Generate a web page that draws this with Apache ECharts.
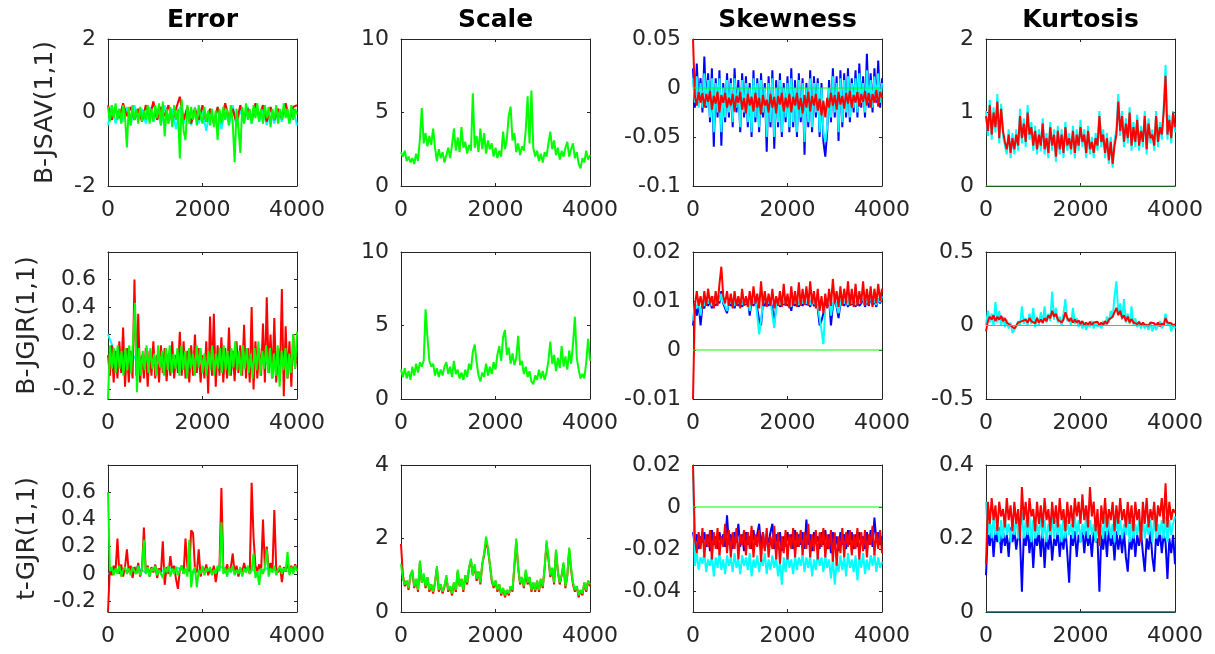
<!DOCTYPE html>
<html>
<head>
<meta charset="utf-8">
<script src="https://cdn.jsdelivr.net/npm/echarts@6.0.0/dist/echarts.min.js"></script>
<style>
  html, body { margin: 0; background: #fff; }
  #chart { width: 1215px; height: 654px; }
</style>
</head>
<body>
<div id="chart"></div>
<script>
// ---- labels & ticks ----
const colTitles = ['Error', 'Scale', 'Skewness', 'Kurtosis'];
const rowNames = ['B-JSAV(1,1)', 'B-JGJR(1,1)', 't-GJR(1,1)'];
const xTicks = [0, 2000, 4000];
// row-major: r1c1..r1c4, r2c1..., r3c1...
const yRanges = [[-2, 2], [0, 10], [-0.1, 0.05], [0, 2],
                 [-0.27, 0.8], [0, 10], [-0.01, 0.02], [-0.5, 0.5],
                 [-0.28, 0.8], [0, 4], [-0.05, 0.02], [0, 0.4]];
const yTicks = [[-2, 0, 2], [0, 5, 10], [-0.1, -0.05, 0, 0.05], [0, 1, 2],
                [-0.2, 0, 0.2, 0.4, 0.6], [0, 5, 10], [-0.01, 0, 0.01, 0.02], [-0.5, 0, 0.5],
                [-0.2, 0, 0.2, 0.4, 0.6], [0, 2, 4], [-0.04, -0.02, 0, 0.02], [0, 0.2, 0.4]];

// ---- row 1: B-JSAV(1,1) ----
const errCyan1 = [-0.35,0.2,-0.3,0.1,-0.25,0.15,-0.35,0.2,-0.2,0.1,-0.3,0.15,-0.25,0.1,-0.35,0.2,-0.3,0.1,-0.45,0.15,-0.3,0.1,-0.35,0.15,-0.3,0.05,-0.5,0.1,-0.3,0.15,-0.45,0.1,-0.35,0.2,-0.4,0.1,-0.3,0.15,-0.3,0.2,-0.25,0.1,-0.35,0.15,-0.3,0.1,-0.25,0.2,-0.3,0.1,-0.35];
const errRed1 = [0.2,-0.2,0.1,-0.15,0.25,-0.1,0.15,-0.2,0.1,-0.25,0.2,-0.15,0.3,-0.2,0.15,-0.1,0.2,-0.25,0.1,0.43,-0.2,0.15,-0.3,0.1,-0.2,0.2,-0.25,0.1,-0.3,0.15,-0.2,0.25,-0.15,0.1,-0.3,0.2,-0.15,0.1,-0.2,0.25,-0.1,0.2,-0.25,0.15,-0.2,0.1,-0.15,0.25,-0.2,0.15,0.2];
const errGreen1 = [0.15,-0.25,0.2,-0.15,0.25,-0.2,0.1,-0.3,0.2,-0.1,-0.95,0.15,-0.35,0.2,-0.2,0.1,-0.3,0.15,-0.25,0.05,
  -0.2,0.2,-0.3,0.1,-0.25,0.2,-0.15,0.25,-0.35,0.3,-0.65,0.1,-0.3,0.15,-0.4,0.2,-0.2,0.1,-1.25,0.35,
  -0.5,-0.75,0.2,-0.3,0.15,-0.2,0.1,-0.35,0.2,-0.1,-0.3,0.15,-0.25,0.05,-0.35,0.1,-0.4,0.05,-0.75,0.1,
  -0.3,0.15,-0.2,0.1,-0.35,0.2,-0.3,-1.35,0.1,-0.4,-1.1,0.15,-0.3,0.25,-0.2,0.1,-0.3,0.2,-0.15,0.25,
  -0.25,0.1,-0.3,0.2,-0.15,0.15,-0.4,0.1,-0.2,0.2,-0.3,0.1,-0.2,0.25,-0.15,0.1,-0.3,0.2,-0.2,0.1,-0.05];
const scaleGreen1 = [2.3,2.0,2.4,1.7,2.0,1.6,1.9,1.5,2.2,1.7,3.2,5.3,2.9,3.6,2.7,3.4,2.8,3.9,2.6,1.7,
  2.5,1.9,2.3,1.6,2.1,2.6,1.9,2.8,3.9,2.4,3.3,2.3,4.0,2.6,3.0,2.2,2.8,2.4,6.3,2.6,
  3.4,2.3,3.9,2.5,3.6,2.2,3.1,2.5,2.9,2.0,2.6,1.9,2.4,2.0,3.7,2.5,3.2,4.8,5.4,3.1,
  3.6,2.3,2.9,2.1,2.7,2.4,3.8,6.1,2.9,6.5,2.6,2.0,2.4,1.7,2.2,1.6,2.3,2.0,2.9,3.7,
  2.5,3.1,2.1,2.6,1.8,2.4,2.0,2.6,3.0,2.0,2.5,2.9,1.9,2.3,1.5,1.2,1.9,1.6,2.4,1.8,2.1];
const skewBlue1 = [0.02,-0.02,0.025,-0.015,0.01,-0.025,0.032,-0.02,0.015,-0.035,0.02,-0.06,0.01,-0.03,0.018,-0.059,0.005,-0.035,0.015,-0.03,
  0.01,-0.04,0.02,-0.025,0.008,-0.045,0.015,-0.03,0.012,-0.04,0.005,-0.05,0.018,-0.035,0.01,-0.045,0.015,-0.03,0.005,-0.065,
  0.012,-0.04,0.018,-0.062,0.008,-0.04,0.015,-0.05,0.005,-0.035,0.012,-0.045,0.02,-0.04,0.008,-0.05,0.015,-0.035,0.01,-0.068,
  0.005,-0.04,0.018,-0.045,0.012,-0.03,0.01,-0.05,0.005,-0.055,-0.07,-0.045,0.008,-0.035,0.02,-0.03,0.012,-0.054,0.018,-0.04,
  0.015,-0.03,0.02,-0.035,0.01,-0.025,0.018,-0.03,0.025,-0.02,0.012,-0.03,0.035,-0.02,0.015,-0.025,0.02,-0.015,0.028,-0.02,0.01];
const skewCyan1 = [0.01,-0.015,0.012,-0.02,0.005,-0.02,0.015,-0.018,0.008,-0.03,0.01,-0.045,0.005,-0.025,0.01,-0.045,0.0,-0.03,0.008,-0.025,
  0.005,-0.035,0.01,-0.02,0.0,-0.04,0.008,-0.025,0.005,-0.035,0.0,-0.045,0.01,-0.03,0.005,-0.04,0.008,-0.025,0.0,-0.05,
  0.005,-0.035,0.01,-0.05,0.0,-0.035,0.008,-0.045,0.0,-0.03,0.005,-0.04,0.01,-0.035,0.0,-0.045,0.008,-0.03,0.005,-0.055,
  0.0,-0.035,0.01,-0.04,0.005,-0.025,0.005,-0.045,0.0,-0.045,-0.055,-0.04,0.0,-0.03,0.012,-0.025,0.005,-0.045,0.01,-0.035,
  0.008,-0.025,0.012,-0.03,0.005,-0.02,0.01,-0.025,0.015,-0.015,0.005,-0.025,0.018,-0.015,0.008,-0.02,0.012,-0.012,0.015,-0.015,0.005];
const skewRed1 = [0.05,-0.008,-0.018,-0.004,-0.015,-0.005,-0.02,-0.006,-0.014,-0.003,-0.022,-0.008,-0.016,-0.004,-0.025,-0.007,-0.015,-0.005,-0.02,-0.01,
  -0.018,-0.006,-0.024,-0.008,-0.015,-0.004,-0.022,-0.01,-0.026,-0.006,-0.018,-0.009,-0.024,-0.005,-0.02,-0.01,-0.027,-0.007,-0.018,-0.012,
  -0.025,-0.006,-0.02,-0.009,-0.026,-0.008,-0.017,-0.005,-0.024,-0.01,-0.02,-0.006,-0.025,-0.009,-0.018,-0.005,-0.022,-0.01,-0.026,-0.007,
  -0.02,-0.004,-0.024,-0.008,-0.018,-0.006,-0.023,-0.011,-0.028,-0.013,-0.03,-0.01,-0.02,-0.005,-0.018,-0.007,-0.022,-0.004,-0.017,-0.008,
  -0.021,-0.005,-0.016,-0.003,-0.02,-0.007,-0.015,-0.004,-0.019,-0.006,-0.014,-0.003,-0.018,-0.005,-0.02,-0.006,-0.015,-0.002,-0.019,-0.004,-0.01];
const skewGreen1 = [0, 0];
const kurtCyan1 = [1.02,0.68,1.17,0.63,1.07,0.73,1.25,0.58,1.12,0.68,0.67,0.43,0.77,0.38,0.72,0.43,0.77,0.48,1.05,0.58,
  0.92,0.53,1.1,0.63,0.87,0.48,0.82,0.43,0.77,0.48,0.92,0.43,0.72,0.38,0.87,0.48,0.77,0.33,0.82,0.43,
  0.77,0.38,0.87,0.48,0.72,0.43,0.82,0.38,0.77,0.48,0.9,0.53,0.77,0.38,0.82,0.43,0.67,0.38,0.72,0.48,
  1.02,0.53,0.77,0.38,0.72,0.3,0.67,0.25,0.62,0.77,1.25,0.68,1.02,0.53,0.92,0.58,1.07,0.48,0.87,0.53,
  0.97,0.48,0.82,0.53,1.02,0.43,0.92,0.58,0.77,0.48,1.02,0.53,0.87,0.63,1.07,1.65,0.63,0.97,0.58,1.02,0.73];
const kurtRed1 = [0.95,0.75,1.1,0.7,1.0,0.8,1.15,0.65,1.05,0.75,0.6,0.5,0.7,0.45,0.65,0.5,0.7,0.55,0.95,0.65,
  0.85,0.6,1.0,0.7,0.8,0.55,0.75,0.5,0.7,0.55,0.85,0.5,0.65,0.45,0.8,0.55,0.7,0.4,0.75,0.5,
  0.7,0.45,0.8,0.55,0.65,0.5,0.75,0.45,0.7,0.55,0.8,0.6,0.7,0.45,0.75,0.5,0.6,0.45,0.65,0.55,
  0.95,0.6,0.7,0.45,0.65,0.35,0.6,0.3,0.55,0.7,1.15,0.75,0.95,0.6,0.85,0.65,1.0,0.55,0.8,0.6,
  0.9,0.55,0.75,0.6,0.95,0.5,0.85,0.65,0.7,0.55,0.95,0.6,0.8,0.7,1.0,1.5,0.7,0.9,0.65,1.0,0.8];
const kurtGreen1 = [0, 0];

// ---- row 2: B-JGJR(1,1) ----
const errCyan2 = [0.2,0.02,-0.03,0.05,0.0,0.03,-0.02,0.04,0.01,-0.02,0.03,0.0,0.02,-0.03,0.04,0.01,0.03,-0.02,0.02,0.0,0.05];
const errRed2 = [0.05,-0.1,0.12,-0.15,0.08,-0.12,0.15,-0.08,0.25,-0.18,0.1,-0.15,0.08,-0.12,0.6,-0.1,0.35,-0.15,0.05,-0.12,
  0.1,-0.18,0.08,-0.1,0.15,-0.12,0.05,-0.15,0.12,-0.08,0.1,-0.14,0.06,-0.1,0.15,-0.12,0.05,-0.08,0.22,-0.1,
  0.15,-0.12,0.08,-0.15,0.12,-0.1,0.2,-0.08,0.1,-0.15,0.05,-0.12,0.15,-0.23,0.33,-0.1,0.35,-0.18,0.12,-0.1,
  0.18,-0.15,0.1,-0.12,0.25,-0.1,0.08,-0.14,0.15,-0.08,0.12,-0.1,0.27,-0.12,0.1,-0.15,0.4,-0.2,0.15,-0.12,
  0.1,-0.1,0.28,-0.15,0.47,-0.08,0.2,-0.12,0.32,-0.15,0.1,-0.1,0.53,-0.25,0.26,-0.12,0.15,-0.18,0.2,-0.05,0.1];
const errGreen2 = [-0.27,0.12,-0.05,0.1,-0.08,0.12,-0.05,0.08,-0.1,0.1,-0.06,0.12,-0.08,0.15,0.43,-0.22,0.1,-0.1,0.08,-0.06,
  0.12,-0.08,0.1,-0.05,0.06,-0.1,0.12,-0.04,0.08,-0.1,0.1,-0.06,0.12,-0.08,0.06,-0.05,0.1,-0.1,0.12,-0.06,
  0.08,-0.12,0.1,-0.05,0.06,-0.1,0.12,-0.04,0.1,-0.08,0.06,-0.1,0.08,-0.06,0.12,-0.1,0.06,-0.05,0.1,-0.08,
  0.12,-0.06,0.08,-0.1,0.1,-0.04,0.15,-0.06,0.08,-0.1,0.12,-0.05,0.1,-0.08,0.06,-0.12,0.1,-0.06,0.15,-0.1,
  0.08,-0.05,0.12,-0.08,0.1,-0.12,0.06,-0.1,0.12,-0.18,0.08,-0.06,0.1,-0.12,0.06,-0.08,0.2,-0.05,0.22];
const scaleGreen2 = [2.0,1.5,2.1,1.4,1.9,1.3,2.2,1.6,2.4,1.8,2.5,2.2,2.6,6.1,4.2,2.6,2.2,2.4,1.6,2.1,
  1.5,2.0,1.6,2.2,2.5,1.7,2.2,1.5,2.6,1.7,2.0,1.4,1.8,1.3,2.0,1.5,2.4,2.0,3.2,3.7,
  2.5,1.6,1.2,1.8,1.5,2.4,1.6,2.2,1.7,2.5,2.0,3.0,3.6,2.6,4.2,4.7,3.0,3.5,2.4,3.1,
  2.3,2.8,4.3,2.3,2.6,1.7,2.2,1.5,1.9,1.2,1.0,1.6,1.3,2.0,1.4,1.9,1.3,1.8,2.6,3.9,
  2.4,3.0,1.9,2.8,2.1,3.6,2.2,2.9,2.0,3.3,2.4,3.7,5.6,2.8,2.0,1.4,1.7,1.4,2.5,4.1,2.6];
const skewBlue2 = [0.005,0.009,0.007,0.0095,0.005,0.009,0.0085,0.0105,0.009,0.01,0.0085,0.011,0.009,0.0105,0.0095,0.012,0.0095,0.0085,0.0075,0.01,
  0.009,0.0105,0.0085,0.01,0.009,0.0105,0.0088,0.01,0.0092,0.0105,0.007,0.01,0.009,0.0105,0.0085,0.006,0.005,0.0095,0.009,0.0105,
  0.009,0.01,0.0085,0.0055,0.009,0.0105,0.0088,0.01,0.0092,0.0105,0.009,0.0102,0.008,0.0105,0.009,0.01,0.0088,0.0105,0.009,0.0102,
  0.0092,0.01,0.0088,0.0105,0.009,0.0095,0.0085,0.005,0.006,0.0075,0.0095,0.0088,0.0105,0.005,0.009,0.0102,0.0088,0.0065,0.0095,0.0105,
  0.009,0.0102,0.0088,0.011,0.0092,0.0102,0.0088,0.0105,0.009,0.0095,0.0105,0.0088,0.0102,0.009,0.0108,0.0092,0.01,0.0088,0.0105,0.0095,0.011];
const skewCyan2 = [0.006,0.0095,0.0085,0.01,0.007,0.0098,0.009,0.0105,0.0095,0.0102,0.009,0.011,0.0095,0.0105,0.01,0.0115,0.0098,0.009,0.008,0.0102,
  0.0095,0.0105,0.009,0.0102,0.0095,0.0105,0.0092,0.0102,0.0095,0.0105,0.008,0.0102,0.0095,0.0105,0.007,0.0032,0.006,0.0098,0.0095,0.0105,
  0.0095,0.0102,0.007,0.0045,0.0085,0.0105,0.0092,0.0102,0.0095,0.0105,0.0095,0.0102,0.0088,0.0105,0.0095,0.0102,0.0092,0.0105,0.0095,0.0102,
  0.0095,0.0102,0.0092,0.0105,0.0095,0.0098,0.009,0.0065,0.004,0.0012,0.0085,0.0092,0.0105,0.007,0.0095,0.0102,0.0092,0.0075,0.0098,0.0105,
  0.0095,0.0102,0.0092,0.011,0.0095,0.0102,0.0092,0.0105,0.0095,0.0098,0.0105,0.0092,0.0102,0.0095,0.0108,0.0095,0.0102,0.0092,0.0105,0.0098,0.011];
const skewRed2 = [-0.01,0.009,0.012,0.009,0.011,0.0085,0.012,0.009,0.0125,0.0095,0.011,0.0085,0.012,0.009,0.0135,0.017,0.011,0.0095,0.012,0.009,
  0.0115,0.0085,0.012,0.009,0.011,0.0085,0.0125,0.009,0.011,0.0088,0.012,0.009,0.013,0.0095,0.0115,0.0085,0.014,0.009,0.012,0.0088,
  0.0115,0.009,0.0125,0.0085,0.011,0.009,0.012,0.0088,0.0135,0.009,0.0115,0.0085,0.013,0.009,0.012,0.0088,0.0138,0.009,0.0125,0.0092,
  0.013,0.009,0.014,0.0095,0.012,0.0085,0.0125,0.008,0.011,0.0075,0.0115,0.0085,0.0125,0.009,0.0145,0.0095,0.012,0.0088,0.013,0.009,
  0.0125,0.0095,0.014,0.009,0.0125,0.0088,0.0135,0.009,0.012,0.0095,0.014,0.009,0.0125,0.0092,0.013,0.0088,0.0125,0.0095,0.0135,0.01,0.0125];
const skewGreen2 = [0, 0];
const kurtCyan2 = [0.0,0.1,0.02,0.08,0.0,0.16,0.02,0.1,0.0,0.06,-0.01,0.04,-0.02,0.02,-0.05,-0.03,-0.01,0.03,0.0,0.13,
  0.01,0.05,0.0,0.08,0.01,0.12,-0.01,0.06,0.0,0.09,0.01,0.13,0.02,0.08,0.03,0.23,0.04,0.12,0.02,0.06,
  0.0,0.08,0.18,0.03,0.05,0.0,0.12,0.01,0.05,-0.01,0.03,-0.02,0.02,-0.03,0.01,-0.01,0.03,-0.02,0.02,-0.01,
  0.01,-0.02,0.03,0.0,0.06,0.02,0.1,0.05,0.2,0.3,0.08,0.15,0.04,0.18,0.02,0.08,0.01,0.13,0.0,0.05,
  -0.01,0.03,-0.02,0.02,-0.02,0.01,-0.03,0.02,-0.04,0.01,-0.03,0.0,0.03,-0.02,0.01,0.08,0.0,0.02,-0.04,0.01,-0.02];
const kurtRed2 = [-0.04,0.03,0.06,0.04,0.07,0.03,0.06,0.04,0.065,0.03,0.05,0.02,0.03,0.0,0.01,-0.02,0.0,0.02,0.01,0.03,
  0.02,0.04,0.02,0.05,0.03,0.04,0.015,0.05,0.02,0.04,0.02,0.05,0.03,0.07,0.05,0.1,0.06,0.08,0.04,0.05,
  0.02,0.04,0.09,0.05,0.03,0.05,0.02,0.04,0.02,0.035,0.01,0.03,0.0,0.02,0.005,0.025,0.0,0.02,0.01,0.025,
  0.0,0.02,0.005,0.03,0.01,0.04,0.03,0.06,0.09,0.12,0.07,0.1,0.05,0.07,0.03,0.06,0.02,0.045,0.02,0.03,
  0.01,0.025,0.0,0.02,0.005,0.015,0.0,0.02,0.01,0.015,0.0,0.02,-0.005,0.015,0.0,0.05,0.02,0.01,0.015,0.0,0.01];
const kurtGreen2 = [0, 0];

// ---- row 3: t-GJR(1,1) ----
const errCyan3 = [0.0,0.03,0.02,0.05,0.01,0.04,0.02,0.05,0.03,0.01,0.04,0.02,0.05,0.03,0.02,0.04,0.01,0.05,0.03,0.02,0.04];
const errRed3 = [-0.28,0.05,-0.01,0.06,0.02,0.26,0.0,0.07,-0.02,0.05,0.18,0.01,0.06,-0.03,0.05,0.0,0.08,-0.02,0.04,0.34,
  0.01,0.06,-0.02,0.05,0.01,0.07,-0.03,0.04,0.01,0.24,-0.08,0.05,0.0,0.13,0.02,0.06,-0.04,-0.11,0.03,0.06,
  0.0,0.26,0.05,0.02,0.32,0.3,0.04,0.01,0.18,-0.02,0.05,0.01,0.07,-0.01,0.04,0.0,0.06,-0.06,0.03,0.06,
  0.63,0.04,0.01,0.07,0.02,0.05,0.15,0.0,0.06,-0.02,0.04,0.01,0.08,0.02,0.05,0.0,0.67,0.27,0.06,0.02,
  0.07,0.01,0.4,0.05,0.2,0.03,0.08,0.02,0.47,0.04,0.01,0.06,-0.06,0.05,0.02,0.08,0.01,0.06,0.02,0.07,0.03];
const errGreen3 = [0.6,0.02,0.05,-0.01,0.04,0.0,0.06,-0.02,0.03,0.05,0.0,0.04,-0.01,0.05,0.02,0.0,0.06,-0.01,0.03,0.25,
  0.0,0.05,-0.02,0.04,0.02,0.06,-0.01,0.03,0.0,-0.03,0.05,0.01,0.06,-0.02,0.04,0.0,0.05,-0.01,0.03,0.06,
  0.0,0.04,-0.02,0.25,-0.1,0.02,0.05,-0.1,0.03,0.0,0.06,-0.01,0.04,0.02,0.05,-0.01,0.03,0.0,0.06,0.02,
  0.38,0.0,0.04,-0.02,0.05,0.01,0.06,-0.01,0.03,0.0,0.05,-0.02,0.04,0.01,0.06,0.0,0.03,0.15,-0.03,0.02,
  -0.08,0.04,0.0,0.05,0.18,-0.02,0.04,0.01,0.06,-0.01,0.03,0.05,0.0,0.04,0.02,0.16,-0.01,0.05,0.0,0.06,0.02];
const scaleRed3 = [1.85,1.0,0.7,0.85,0.6,1.0,1.1,0.65,0.9,0.55,1.35,0.8,1.0,0.65,0.95,0.55,0.75,0.5,0.8,1.2,
  0.55,0.75,0.5,0.7,0.95,0.55,0.7,0.45,0.8,0.55,1.1,0.7,0.9,0.55,1.0,0.75,1.2,1.4,1.0,1.25,
  0.85,1.1,0.75,1.3,1.55,1.95,1.7,1.3,0.85,0.65,0.85,0.55,0.75,0.45,0.65,0.4,0.6,0.45,0.7,0.55,
  1.25,1.9,1.2,0.75,0.95,0.65,1.1,0.75,0.95,0.55,0.8,0.55,0.85,0.55,0.9,0.65,1.2,1.85,1.45,0.95,
  1.2,0.75,1.65,1.1,0.75,1.0,1.3,0.65,1.0,1.7,1.15,0.75,0.55,0.7,0.4,0.6,0.45,0.8,0.55,0.85,0.7];
const scaleGreen3 = [1.3,0.9,0.75,0.85,0.65,1.0,1.15,0.7,0.9,0.6,1.4,0.8,1.05,0.7,0.95,0.6,0.75,0.55,0.8,1.25,
  0.6,0.75,0.55,0.7,1.0,0.6,0.7,0.5,0.8,0.6,1.15,0.7,0.9,0.6,1.0,0.8,1.2,1.45,1.0,1.3,
  0.9,1.1,0.8,1.3,1.6,2.05,1.75,1.3,0.9,0.7,0.85,0.6,0.75,0.5,0.65,0.45,0.6,0.5,0.7,0.6,
  1.3,2.0,1.2,0.8,0.95,0.7,1.15,0.8,0.95,0.6,0.8,0.6,0.85,0.6,0.9,0.7,1.2,1.95,1.5,1.0,
  1.2,0.8,1.7,1.1,0.8,1.0,1.35,0.7,1.0,1.75,1.2,0.8,0.6,0.7,0.45,0.6,0.5,0.8,0.6,0.85,0.75];
const skewBlue3 = [-0.012,-0.018,-0.013,-0.02,-0.014,-0.017,-0.012,-0.019,-0.013,-0.021,-0.011,-0.018,-0.014,-0.02,-0.012,-0.017,-0.013,-0.019,-0.004,-0.018,
  -0.013,-0.02,-0.012,-0.017,-0.008,-0.019,-0.013,-0.021,-0.012,-0.018,-0.014,-0.02,-0.011,-0.018,-0.013,-0.008,-0.019,-0.012,-0.02,-0.014,
  -0.017,-0.012,-0.008,-0.02,-0.013,-0.018,-0.012,-0.021,-0.014,-0.019,-0.012,-0.018,-0.013,-0.02,-0.011,-0.019,-0.013,-0.018,-0.012,-0.02,
  -0.006,-0.018,-0.013,-0.021,-0.012,-0.017,-0.014,-0.02,-0.012,-0.018,-0.011,-0.02,-0.013,-0.022,-0.012,-0.019,-0.014,-0.021,-0.012,-0.018,
  -0.013,-0.02,-0.011,-0.018,-0.012,-0.02,-0.013,-0.019,-0.012,-0.017,-0.014,-0.02,-0.012,-0.018,-0.011,-0.019,-0.005,-0.016,-0.012,-0.018,-0.014];
const skewCyan3 = [0.02,-0.028,-0.022,-0.03,-0.024,-0.027,-0.022,-0.031,-0.025,-0.028,-0.023,-0.033,-0.024,-0.029,-0.022,-0.03,-0.025,-0.032,-0.023,-0.028,
  -0.024,-0.031,-0.022,-0.029,-0.025,-0.032,-0.023,-0.028,-0.024,-0.03,-0.022,-0.033,-0.025,-0.029,-0.023,-0.031,-0.024,-0.028,-0.022,-0.032,
  -0.025,-0.03,-0.023,-0.029,-0.024,-0.033,-0.026,-0.037,-0.024,-0.031,-0.022,-0.029,-0.025,-0.032,-0.023,-0.03,-0.024,-0.028,-0.022,-0.031,
  -0.024,-0.029,-0.023,-0.033,-0.025,-0.03,-0.022,-0.028,-0.024,-0.031,-0.023,-0.029,-0.025,-0.034,-0.024,-0.037,-0.026,-0.031,-0.023,-0.03,
  -0.024,-0.033,-0.022,-0.029,-0.025,-0.031,-0.023,-0.035,-0.024,-0.029,-0.022,-0.032,-0.025,-0.03,-0.023,-0.028,-0.022,-0.031,-0.024,-0.029,-0.026];
const skewRed3 = [0.02,-0.015,-0.022,-0.012,-0.02,-0.01,-0.024,-0.013,-0.019,-0.011,-0.025,-0.012,-0.02,-0.01,-0.023,-0.014,-0.019,-0.008,-0.022,-0.011,
  -0.024,-0.012,-0.02,-0.01,-0.025,-0.013,-0.018,-0.011,-0.023,-0.012,-0.02,-0.009,-0.024,-0.013,-0.019,-0.011,-0.026,-0.012,-0.021,-0.01,
  -0.024,-0.014,-0.02,-0.009,-0.025,-0.012,-0.027,-0.014,-0.022,-0.011,-0.025,-0.013,-0.02,-0.01,-0.024,-0.012,-0.019,-0.011,-0.023,-0.012,
  -0.02,-0.008,-0.024,-0.013,-0.021,-0.011,-0.025,-0.012,-0.019,-0.01,-0.024,-0.013,-0.02,-0.011,-0.026,-0.012,-0.028,-0.014,-0.022,-0.01,
  -0.024,-0.012,-0.019,-0.011,-0.023,-0.013,-0.02,-0.01,-0.025,-0.012,-0.021,-0.011,-0.024,-0.013,-0.018,-0.009,-0.023,-0.012,-0.02,-0.011,-0.022];
const skewGreen3 = [0, 0];
const kurtBlue3 = [0.1,0.22,0.18,0.23,0.15,0.22,0.19,0.23,0.16,0.22,0.18,0.21,0.15,0.23,0.19,0.22,0.17,0.21,0.2,0.055,
  0.21,0.18,0.23,0.16,0.22,0.12,0.21,0.18,0.22,0.15,0.23,0.12,0.21,0.17,0.22,0.14,0.2,0.18,0.22,0.15,
  0.21,0.17,0.23,0.16,0.08,0.21,0.18,0.22,0.15,0.21,0.19,0.23,0.16,0.22,0.18,0.21,0.15,0.22,0.19,0.2,
  0.055,0.21,0.17,0.22,0.15,0.23,0.18,0.21,0.14,0.22,0.17,0.21,0.16,0.22,0.15,0.11,0.2,0.17,0.22,0.15,
  0.21,0.18,0.22,0.16,0.11,0.2,0.17,0.22,0.15,0.11,0.21,0.18,0.22,0.16,0.21,0.19,0.09,0.2,0.16,0.21,0.13];
const kurtCyan3 = [0.3,0.21,0.25,0.2,0.26,0.21,0.24,0.19,0.25,0.2,0.26,0.21,0.24,0.19,0.25,0.21,0.26,0.2,0.24,0.27,
  0.2,0.25,0.21,0.26,0.19,0.25,0.2,0.24,0.21,0.26,0.2,0.25,0.19,0.24,0.21,0.26,0.2,0.25,0.21,0.24,
  0.19,0.26,0.2,0.25,0.21,0.24,0.2,0.26,0.21,0.25,0.19,0.24,0.21,0.26,0.2,0.25,0.21,0.24,0.19,0.25,
  0.18,0.24,0.2,0.26,0.21,0.25,0.2,0.24,0.19,0.26,0.21,0.25,0.2,0.24,0.21,0.26,0.19,0.25,0.2,0.24,
  0.21,0.25,0.19,0.26,0.2,0.24,0.21,0.25,0.19,0.26,0.2,0.24,0.21,0.25,0.2,0.26,0.19,0.25,0.21,0.24,0.26];
const kurtRed3 = [0.13,0.3,0.24,0.31,0.25,0.29,0.22,0.3,0.26,0.28,0.23,0.31,0.25,0.29,0.22,0.3,0.24,0.28,0.2,0.34,
  0.25,0.3,0.23,0.31,0.26,0.28,0.22,0.3,0.24,0.29,0.23,0.31,0.25,0.28,0.22,0.3,0.24,0.29,0.23,0.31,
  0.25,0.28,0.22,0.3,0.24,0.29,0.23,0.31,0.26,0.3,0.24,0.32,0.25,0.29,0.23,0.34,0.26,0.3,0.22,0.28,
  0.18,0.29,0.24,0.31,0.23,0.28,0.25,0.3,0.22,0.29,0.24,0.31,0.25,0.28,0.23,0.3,0.24,0.29,0.22,0.3,
  0.25,0.28,0.19,0.3,0.24,0.31,0.23,0.28,0.25,0.3,0.22,0.29,0.26,0.31,0.24,0.35,0.23,0.3,0.25,0.28,0.27];
const kurtGreen3 = [0, 0];
const kurtFlat3 = [0, 0];

const BLUE = '#0000ff', CYAN = '#00ffff', RED = '#ff0000', GREEN = '#00ff00';

// series per panel, drawn in order (last on top)
const panels = [
  [[errCyan1, CYAN], [errRed1, RED], [errGreen1, GREEN]],
  [[scaleGreen1, GREEN]],
  [[skewBlue1, BLUE], [skewCyan1, CYAN], [skewRed1, RED], [skewGreen1, GREEN]],
  [[kurtCyan1, CYAN], [kurtRed1, RED], [kurtGreen1, GREEN]],
  [[errCyan2, CYAN], [errRed2, RED], [errGreen2, GREEN]],
  [[scaleGreen2, GREEN]],
  [[skewBlue2, BLUE], [skewCyan2, CYAN], [skewRed2, RED], [skewGreen2, GREEN]],
  [[kurtCyan2, CYAN], [kurtRed2, RED], [kurtGreen2, GREEN]],
  [[errCyan3, CYAN], [errRed3, RED], [errGreen3, GREEN]],
  [[scaleRed3, RED], [scaleGreen3, GREEN]],
  [[skewBlue3, BLUE], [skewCyan3, CYAN], [skewRed3, RED], [skewGreen3, GREEN]],
  [[kurtBlue3, BLUE], [kurtCyan3, CYAN], [kurtRed3, RED], [kurtGreen3, GREEN], [kurtFlat3, BLUE]]
];

// layout
const colLeft = [108, 401, 693, 986];
const rowTop = [39, 252, 465];
const W = 189, H = 147;
const AXIS = '#262626';
const FONT = 'DejaVu Sans';

const toXY = arr => arr.map((v, i) => [i * 4000 / (arr.length - 1), v]);

const grid = [], xAxis = [], yAxis = [], series = [], graphic = [];

panels.forEach((list, p) => {
  const r = Math.floor(p / 4), c = p % 4;
  grid.push({ left: colLeft[c], top: rowTop[r], width: W, height: H });
  const line = { show: true, onZero: false, lineStyle: { color: AXIS, width: 1 } };
  ['bottom', 'top'].forEach((pos, k) => {
    xAxis.push({
      type: 'value', gridIndex: p, position: pos, min: 0, max: 4000,
      axisLine: line, splitLine: { show: false },
      axisTick: { show: true, inside: true, length: 3, customValues: xTicks, lineStyle: { color: AXIS } },
      axisLabel: { show: k === 0, customValues: xTicks, formatter: v => String(v),
                   fontSize: 22, fontFamily: FONT, color: AXIS, margin: 13 }
    });
  });
  ['left', 'right'].forEach((pos, k) => {
    yAxis.push({
      type: 'value', gridIndex: p, position: pos, min: yRanges[p][0], max: yRanges[p][1],
      axisLine: line, splitLine: { show: false },
      axisTick: { show: true, inside: true, length: 3, customValues: yTicks[p], lineStyle: { color: AXIS } },
      axisLabel: { show: k === 0, customValues: yTicks[p], formatter: v => String(v),
                   fontSize: 22, fontFamily: FONT, color: AXIS, margin: 12 }
    });
  });
  list.forEach(([data, color]) => {
    const flat = data.length === 2;
    series.push({
      type: 'line', xAxisIndex: 2 * p, yAxisIndex: 2 * p,
      data: toXY(data), showSymbol: false, symbol: 'none',
      lineStyle: { color, width: flat ? 1.2 : 2 }, itemStyle: { color },
      silent: true, animation: false
    });
  });
});

colTitles.forEach((t, c) => {
  graphic.push({
    type: 'text', x: colLeft[c] + W / 2, y: 20,
    style: { text: t, font: 'bold 25px "DejaVu Sans"', fill: '#000',
             align: 'center', verticalAlign: 'middle', textAlign: 'center', textVerticalAlign: 'middle' }
  });
});
const rowLabelX = [45, 27, 27];
rowNames.forEach((t, r) => {
  graphic.push({
    type: 'text', x: rowLabelX[r], y: rowTop[r] + H / 2, rotation: Math.PI / 2,
    style: { text: t, font: '25px "DejaVu Sans"', fill: AXIS,
             align: 'center', verticalAlign: 'middle', textAlign: 'center', textVerticalAlign: 'middle' }
  });
});

const chart = echarts.init(document.getElementById('chart'), null, { renderer: 'canvas' });
chart.setOption({
  backgroundColor: '#fff',
  animation: false,
  grid, xAxis, yAxis, series, graphic
});
</script>
</body>
</html>
